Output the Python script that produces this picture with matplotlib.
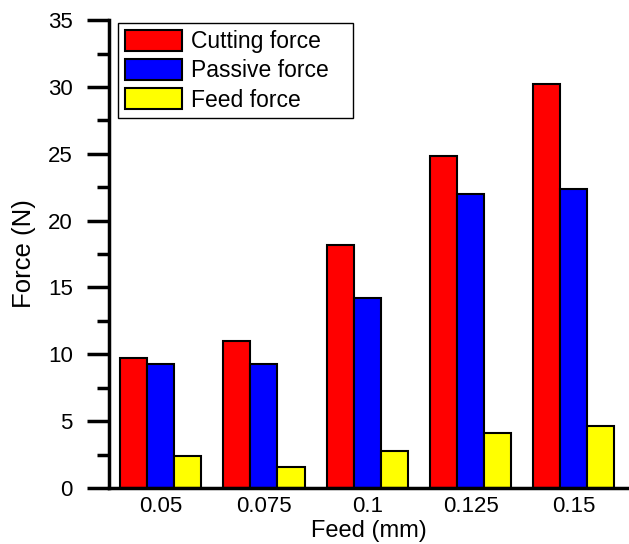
import matplotlib.pyplot as plt
from matplotlib.ticker import MultipleLocator
from matplotlib.legend_handler import HandlerPatch
from matplotlib.patches import Rectangle
import numpy as np

plt.rcParams['font.family'] = ['Liberation Sans', 'DejaVu Sans']

feeds = ['0.05', '0.075', '0.1', '0.125', '0.15']
cutting_force = [9.7, 11.0, 18.2, 24.8, 30.2]
passive_force = [9.3, 9.3, 14.2, 22.0, 22.4]
feed_force = [2.4, 1.6, 2.8, 4.1, 4.6]

series = [
    ('Cutting force', cutting_force, '#ff0000'),
    ('Passive force', passive_force, '#0000ff'),
    ('Feed force', feed_force, '#ffff00'),
]

fig = plt.figure(figsize=(6.29, 5.44), dpi=100)
ax = fig.add_axes([0.1733, 0.103, 0.826, 0.86])

x = np.arange(len(feeds))
width = 0.262
for i, (name, values, color) in enumerate(series):
    ax.bar(x + (i - 1) * width, values, width, color=color, edgecolor='black',
           linewidth=1.5, label=name)

ax.set_xlim(-0.5, 4.53)
ax.set_ylim(0, 35)
ax.set_xticks(x)
ax.set_xticklabels(feeds)
ax.yaxis.set_major_locator(MultipleLocator(5))
ax.yaxis.set_minor_locator(MultipleLocator(2.5))

for side in ['top', 'right']:
    ax.spines[side].set_visible(False)
for side in ['left', 'bottom']:
    ax.spines[side].set_linewidth(2.5)

ax.tick_params(axis='y', which='major', direction='out', length=16, width=2.5,
               labelsize=16, pad=10)
ax.tick_params(axis='y', which='minor', direction='out', length=9, width=2.5)
ax.tick_params(axis='x', length=0, labelsize=16, pad=6)

ax.set_xlabel('Feed (mm)', fontsize=17, labelpad=2)
ax.set_ylabel('Force (N)', fontsize=18.5, labelpad=9)


# legend boxes sit a little in from the frame's left edge
def shifted_box(legend, orig_handle, xdescent, ydescent, width, height, fontsize):
    gap = 0.3 * fontsize
    return Rectangle((-xdescent + gap, -ydescent), width - gap, height)


leg = ax.legend(loc='upper left', bbox_to_anchor=(0.017, 0.0, 0.452, 0.994),
                mode='expand', fontsize=16.5,
                frameon=True, fancybox=False, edgecolor='black', framealpha=1,
                borderaxespad=0, borderpad=0.3, handlelength=2.5,
                handleheight=1.05, handletextpad=0.4, labelspacing=0.25,
                handler_map={Rectangle: HandlerPatch(patch_func=shifted_box)})
leg.get_frame().set_linewidth(1.0)

plt.savefig('out.png', dpi=100)
